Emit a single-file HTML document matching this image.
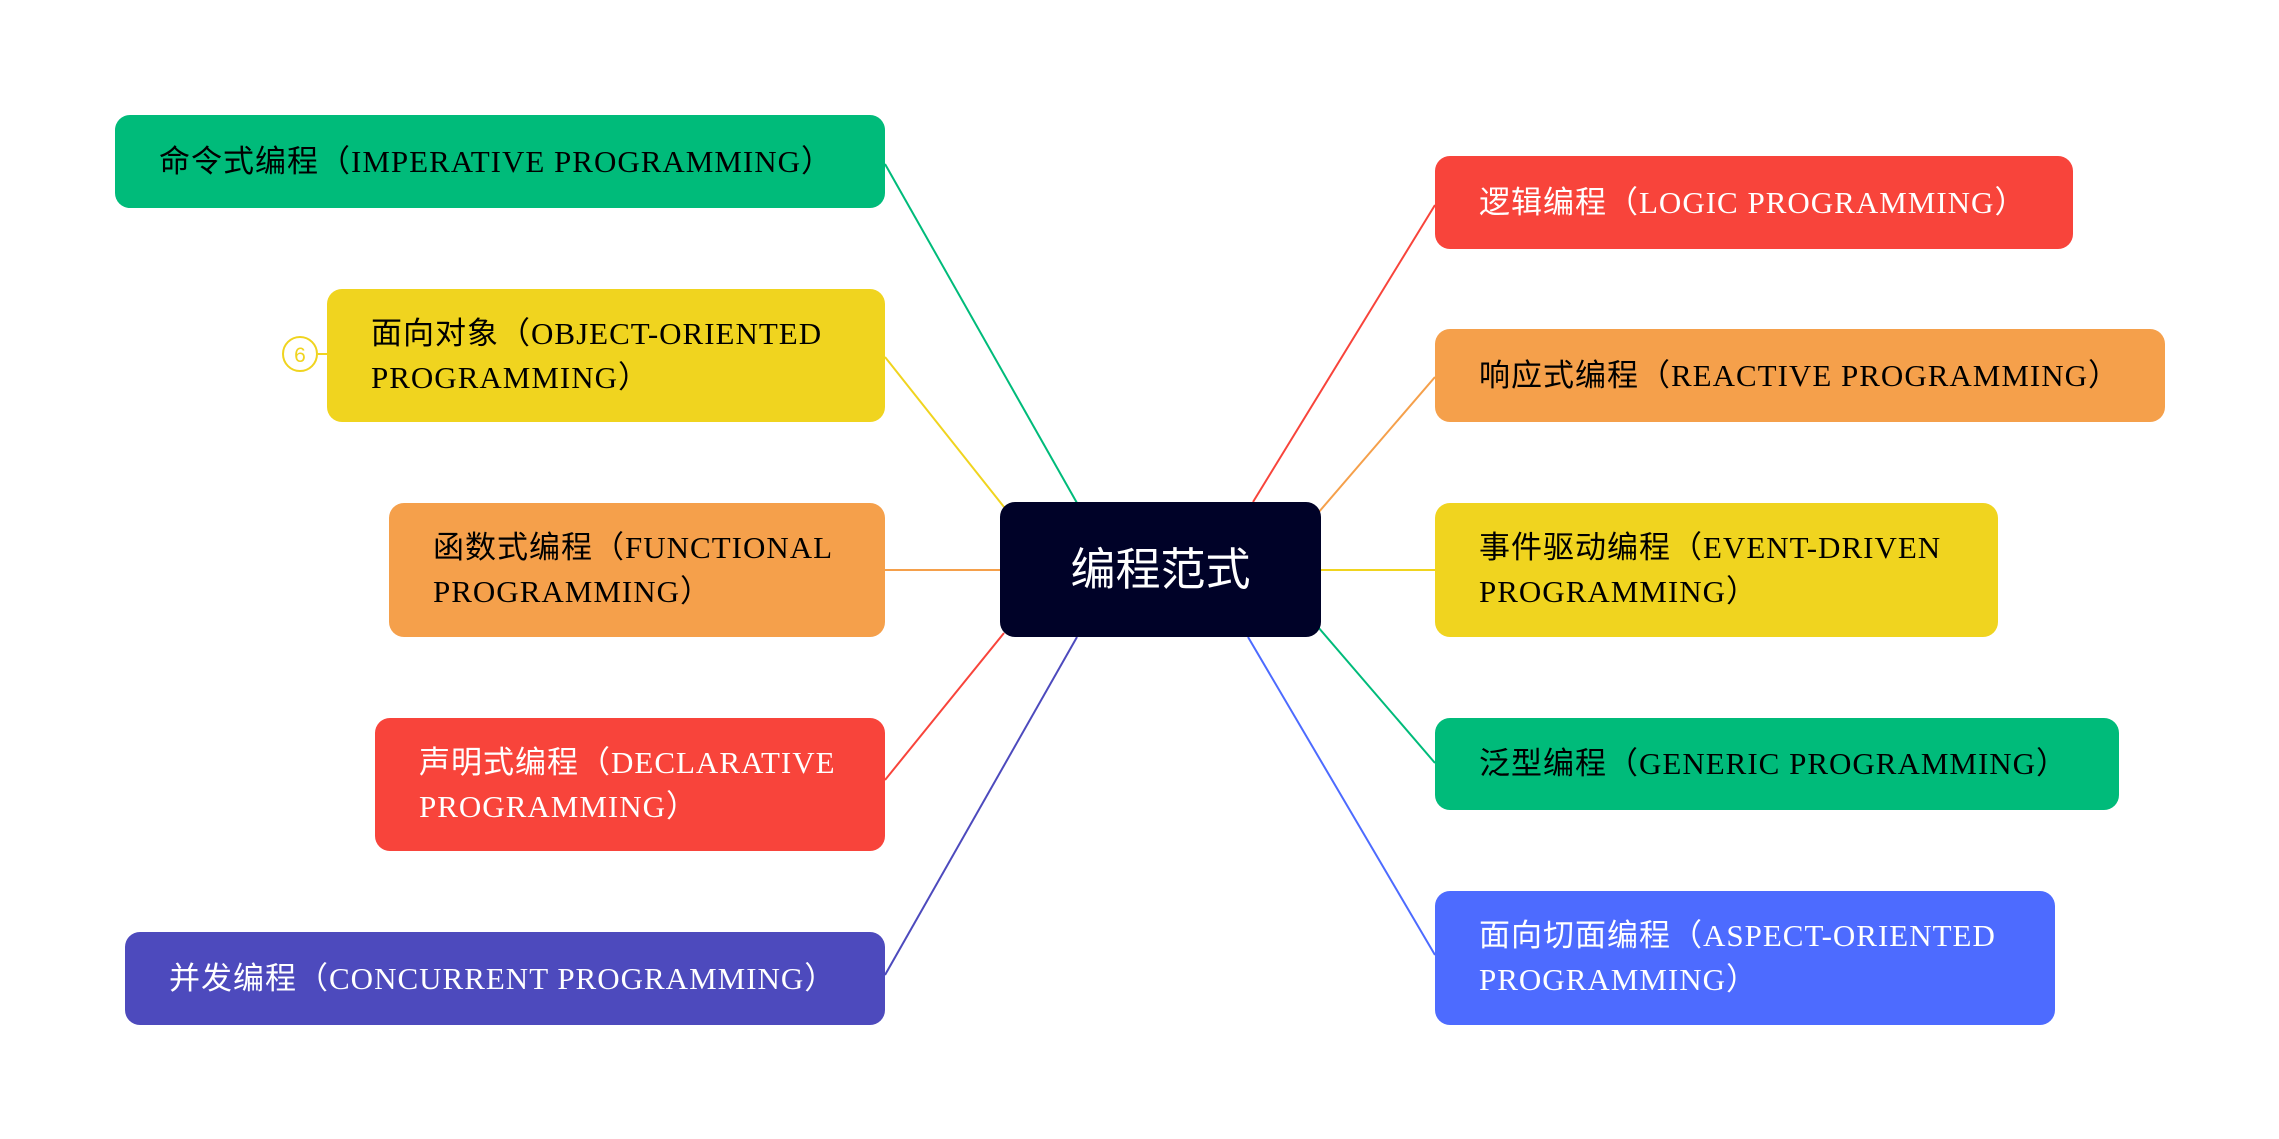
<!DOCTYPE html>
<html><head><meta charset="utf-8"><style>
html,body{margin:0;padding:0;background:#fff;}
body{width:2279px;height:1139px;position:relative;overflow:hidden;}
.n{position:absolute;box-sizing:border-box;border-radius:15px;padding:0 0 0 44px;display:flex;align-items:center;
font-family:"Liberation Serif","Noto Sans CJK SC",serif;font-size:31px;letter-spacing:1px;line-height:44px;color:#000;}
.w{color:#fff;}
svg{position:absolute;left:0;top:0;}
</style></head><body>
<svg width="2279" height="1139">
<g fill="none" stroke-width="2">
<line x1="885" y1="164" x2="1077" y2="503" stroke="#00bb7a"/>
<line x1="885" y1="357" x2="1004" y2="507" stroke="#f0d41f"/>
<line x1="885" y1="570" x2="1000" y2="570" stroke="#f5a04b"/>
<line x1="885" y1="780" x2="1004" y2="633" stroke="#f8443b"/>
<line x1="885" y1="975" x2="1077" y2="637" stroke="#4d4abd"/>
<line x1="1435" y1="205" x2="1253" y2="502" stroke="#f8443b"/>
<line x1="1435" y1="377" x2="1318" y2="513" stroke="#f5a04b"/>
<line x1="1321" y1="570" x2="1435" y2="570" stroke="#f0d41f"/>
<line x1="1318" y1="627" x2="1435" y2="763" stroke="#00bb7a"/>
<line x1="1248" y1="637" x2="1435" y2="955" stroke="#4d6bff"/>
<line x1="318" y1="354" x2="327" y2="354" stroke="#f0d41f"/>
</g>
<circle cx="300" cy="354" r="17" fill="#fff" stroke="#f0d41f" stroke-width="2"/>
<text x="300" y="362" text-anchor="middle" font-family="Liberation Sans,sans-serif" font-size="21" fill="#f0d41f">6</text>
</svg>
<div class="n" style="left:115px;top:115px;width:770px;height:93px;background:#00bb7a;">命令式编程（IMPERATIVE PROGRAMMING）</div>
<div class="n" style="left:327px;top:289px;width:558px;height:133px;background:#f0d41f;">面向对象（OBJECT-ORIENTED<br>PROGRAMMING）</div>
<div class="n" style="left:389px;top:503px;width:496px;height:134px;background:#f5a04b;">函数式编程（FUNCTIONAL<br>PROGRAMMING）</div>
<div class="n w" style="left:375px;top:718px;width:510px;height:133px;background:#f8443b;">声明式编程（DECLARATIVE<br>PROGRAMMING）</div>
<div class="n w" style="left:125px;top:932px;width:760px;height:93px;background:#4d4abd;">并发编程（CONCURRENT PROGRAMMING）</div>
<div class="n w" style="left:1000px;top:502px;width:321px;height:135px;background:#000228;padding:0;justify-content:center;font-family:'Liberation Sans','Noto Sans CJK SC',sans-serif;font-size:45px;letter-spacing:0;">编程范式</div>
<div class="n w" style="left:1435px;top:156px;width:638px;height:93px;background:#f8443b;">逻辑编程（LOGIC PROGRAMMING）</div>
<div class="n" style="left:1435px;top:329px;width:730px;height:93px;background:#f5a04b;">响应式编程（REACTIVE PROGRAMMING）</div>
<div class="n" style="left:1435px;top:503px;width:563px;height:134px;background:#f0d41f;">事件驱动编程（EVENT-DRIVEN<br>PROGRAMMING）</div>
<div class="n" style="left:1435px;top:718px;width:684px;height:92px;background:#00bb7a;">泛型编程（GENERIC PROGRAMMING）</div>
<div class="n w" style="left:1435px;top:891px;width:620px;height:134px;background:#4d6bff;">面向切面编程（ASPECT-ORIENTED<br>PROGRAMMING）</div>
</body></html>
